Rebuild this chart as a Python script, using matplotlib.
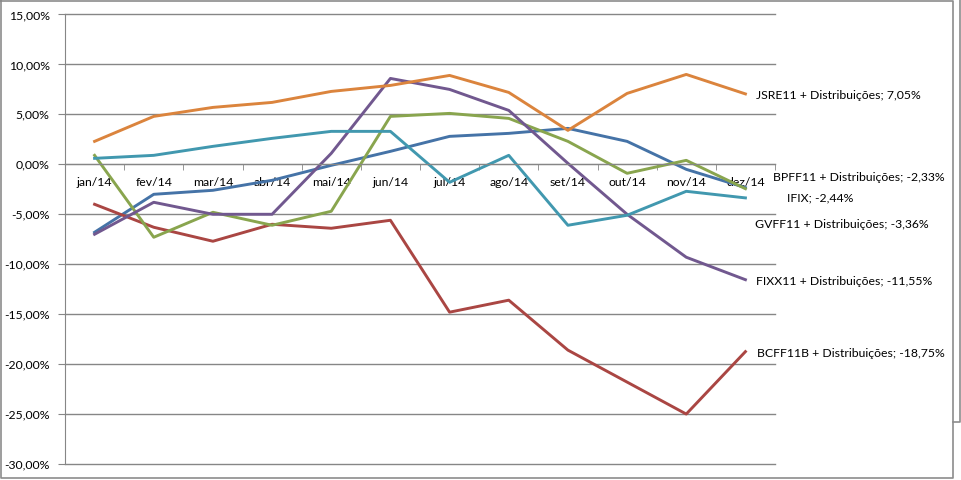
import matplotlib
matplotlib.use("Agg")
import matplotlib.pyplot as plt
from matplotlib.lines import Line2D
from matplotlib.ticker import FuncFormatter, FixedLocator

plt.rcParams["font.family"] = ["Lato", "DejaVu Sans"]

months = ["jan/14", "fev/14", "mar/14", "abr/14", "mai/14", "jun/14",
          "jul/14", "ago/14", "set/14", "out/14", "nov/14", "dez/14"]

bpff = [-6.8, -3.0, -2.6, -1.6, -0.1, 1.3, 2.8, 3.1, 3.6, 2.3, -0.5, -2.33]
bcff = [-4.0, -6.3, -7.7, -6.0, -6.4, -5.6, -14.8, -13.6, -18.6, -21.8, -25.0, -18.75]
ifix = [0.9, -7.3, -4.8, -6.1, -4.7, 4.8, 5.1, 4.6, 2.3, -0.9, 0.4, -2.44]
fixx = [-7.0, -3.8, -5.0, -5.0, 1.1, 8.6, 7.5, 5.4, 0.1, -5.0, -9.3, -11.55]
gvff = [0.6, 0.9, 1.8, 2.6, 3.3, 3.3, -1.8, 0.9, -6.1, -5.1, -2.7, -3.36]
jsre = [2.3, 4.8, 5.7, 6.2, 7.3, 7.9, 8.9, 7.2, 3.4, 7.1, 9.0, 7.05]

series = [bpff, bcff, ifix, fixx, gvff, jsre]
colors = ["#4573A7", "#AA4643", "#89A54E", "#71588F", "#4198AF", "#DB843D"]

# end labels: text, x (category units), y (%)
labels = ["JSRE11 + Distribuições; 7,05%", "BPFF11 + Distribuições; -2,33%",
          "IFIX; -2,44%", "GVFF11 + Distribuições; -3,36%",
          "FIXX11 + Distribuições; -11,55%", "BCFF11B + Distribuições; -18,75%"]
label_x = [11.18, 11.47, 11.70, 11.16, 11.18, 11.20]
label_y = [6.9, -1.3, -3.4, -6.0, -11.7, -18.9]

fig = plt.figure(figsize=(9.61, 4.80), dpi=100)
ax = fig.add_axes([65/961, 16/480, 710/961, 449.5/480])

for vals, c in zip(series, colors):
    ax.plot(range(12), vals, color=c, lw=2.1, solid_joinstyle="round")

for t, x, y in zip(labels, label_x, label_y):
    ax.text(x, y, t, fontsize=8.8, va="center", ha="left", clip_on=False)

ax.set_xlim(-0.5, 11.5)
ax.set_ylim(-30, 15)
ax.set_yticks(range(-30, 16, 5))
ax.yaxis.set_major_formatter(FuncFormatter(lambda v, p: f"{v:.2f}%".replace(".", ",")))
ax.yaxis.grid(True, color="#868686", lw=1)
for gl in ax.get_ygridlines():
    gl.set_clip_on(False)
ax.set_axisbelow(True)

ax.spines["top"].set_visible(False)
ax.spines["right"].set_visible(False)
ax.spines["left"].set_color("#868686")
ax.spines["bottom"].set_position(("data", 0))
ax.spines["bottom"].set_color("#868686")

ax.set_xticks(range(12))
ax.set_xticklabels(months)
ax.xaxis.set_minor_locator(FixedLocator([i + 0.5 for i in range(-1, 12)]))
ax.tick_params(axis="x", which="major", length=0, pad=9, labelsize=8.8)
ax.tick_params(axis="x", which="minor", length=4, color="#868686")
ax.tick_params(axis="y", length=5, color="#868686", labelsize=8.8, pad=6)

# chart frame
W, H = 961, 480
fig.add_artist(Line2D([1/W, 953/W, 953/W, 1/W, 1/W],
                      [1 - 1/H, 1 - 1/H, 1 - 478/H, 1 - 478/H, 1 - 1/H],
                      color="#8c8c8c", lw=1.2))
fig.add_artist(Line2D([953/W, 959.5/W, 959.5/W], [1 - 422/H, 1 - 422/H, 1],
                      color="#8c8c8c", lw=1.2))

fig.savefig("out.png", dpi=100)
